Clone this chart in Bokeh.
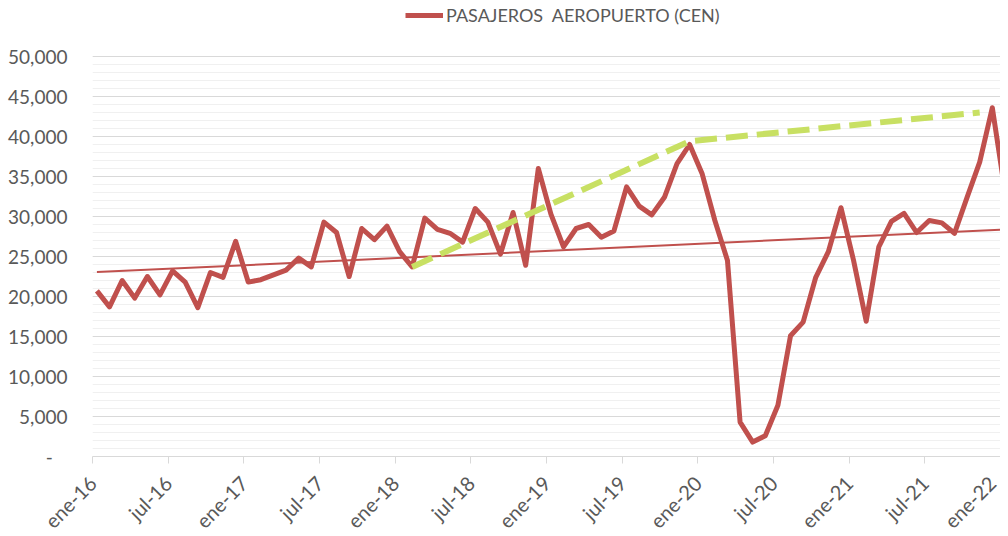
import numpy as np
from bokeh.plotting import figure
from bokeh.models import (ColumnDataSource, Range1d, FixedTicker,
                          NumeralTickFormatter, Legend, LegendItem)
from bokeh.transform import dodge
from bokeh.embed import file_html
from bokeh.resources import INLINE

# ---------------- data ----------------
passengers = [
    20700, 18700, 22000, 19800, 22500, 20200, 23200, 21800, 18600, 23000, 22400, 26900,   # 2016
    21800, 22100, 22700, 23300, 24800, 23700, 29300, 28000, 22500, 28500, 27100, 28800,   # 2017
    25600, 23700, 29800, 28400, 27900, 26800, 31000, 29300, 25300, 30500, 23900, 36000,   # 2018
    30300, 26200, 28500, 29000, 27400, 28200, 33700, 31300, 30200, 32400, 36600, 39000,   # 2019
    35300, 29500, 24500, 4300, 1800, 2600, 6400, 15100, 16800, 22400, 25600, 31100,       # 2020
    24500, 16900, 26200, 29400, 30400, 28000, 29500, 29200, 27900, 32400, 36800, 43600,   # 2021
    33200,                                                                                 # 2022
]
month_idx = list(range(len(passengers)))

# linear trend (start / end)
trend_months = [0, 72]
trend_values = [23050, 28380]

# green dashed projection line
proj_months = [25, 47, 70]
proj_values = [23700, 39400, 43000]

tick_months = list(range(0, 73, 6))
tick_labels = ["ene-16", "jul-16", "ene-17", "jul-17", "ene-18", "jul-18", "ene-19",
               "jul-19", "ene-20", "jul-20", "ene-21", "jul-21", "ene-22"]
y_major = list(range(0, 50001, 5000))
y_minor = list(range(0, 50001, 1000))

# ---------------- figure ----------------
FONT = "Lato"
TXT = "#595959"
RED = "#C0504D"
GREEN = "#C8E063"

# frame spans the full height above the x axis; the top 56px hold the legend
p = figure(frame_width=908, frame_height=456, output_backend="svg", toolbar_location=None,
           x_range=Range1d(0, 72), y_range=Range1d(0, 57000),
           min_border_left=92, min_border_right=0, min_border_top=0, min_border_bottom=0)
p.outline_line_color = None
p.background_fill_color = "white"

src = ColumnDataSource(dict(m=month_idx, v=passengers))
tsrc = ColumnDataSource(dict(m=trend_months, v=trend_values))
gsrc = ColumnDataSource(dict(m=proj_months, v=proj_values))

OFF = 0.35
p.line(x=dodge("m", OFF, range=p.x_range), y="v", source=tsrc, line_color=RED, line_width=2)
main = p.line(x=dodge("m", OFF, range=p.x_range), y="v", source=src, line_color=RED,
              line_width=5, line_join="round")
p.line(x=dodge("m", OFF, range=p.x_range), y="v", source=gsrc, line_color=GREEN,
       line_width=6, line_dash="22 9", line_cap="butt")

# y axis
p.yaxis.ticker = FixedTicker(ticks=y_major, minor_ticks=y_minor)
p.yaxis.formatter = NumeralTickFormatter(format="0,0")
p.yaxis.major_label_overrides = {0: "-\u00a0\u00a0\u00a0"}
p.yaxis.axis_line_color = None
p.yaxis.major_tick_line_color = None
p.yaxis.major_tick_out = 0
p.yaxis.major_tick_in = 0
p.yaxis.minor_tick_line_color = None
p.yaxis.minor_tick_out = 0
p.yaxis.major_label_standoff = 25
p.yaxis.major_label_text_font = FONT
p.yaxis.major_label_text_font_size = "19px"
p.yaxis.major_label_text_color = TXT

p.ygrid.grid_line_color = "#D9D9D9"
p.ygrid.minor_grid_line_color = "#F0F0F0"
p.xgrid.grid_line_color = None

# x axis
p.xaxis.ticker = FixedTicker(ticks=tick_months)
p.xaxis.major_label_overrides = {m: l for m, l in zip(tick_months, tick_labels)}
p.xaxis.major_label_orientation = np.pi / 4
p.xaxis.axis_line_color = "#D9D9D9"
p.xaxis.major_tick_line_color = "#D9D9D9"
p.xaxis.major_tick_in = 0
p.xaxis.major_tick_out = 7
p.xaxis.minor_tick_line_color = None
p.xaxis.major_label_standoff = 16
p.xaxis.major_label_text_font = FONT
p.xaxis.major_label_text_font_size = "20px"
p.xaxis.major_label_text_color = TXT

legend = Legend(items=[LegendItem(label="PASAJEROS\u00a0 AEROPUERTO (CEN)", renderers=[main])],
                location=(313, 430), orientation="horizontal",
                label_text_font=FONT, label_text_font_size="18px", label_text_color=TXT,
                glyph_width=38, glyph_height=20, label_height=20, label_standoff=3,
                padding=0, margin=0, border_line_color=None, background_fill_alpha=0)
p.add_layout(legend, "center")

open("out.html", "w").write(file_html(p, INLINE))
